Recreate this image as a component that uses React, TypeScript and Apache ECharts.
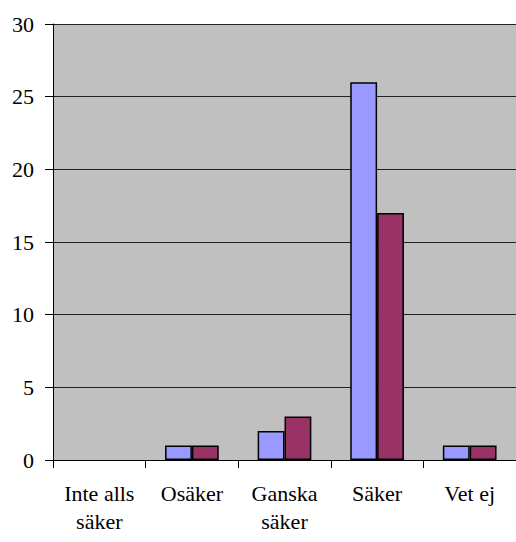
import React, { useEffect, useRef } from "react";
import * as echarts from "echarts";

const categories = ["Inte alls\nsäker", "Osäker", "Ganska\nsäker", "Säker", "Vet ej"];
const series1 = [0, 1, 2, 26, 1];
const series2 = [0, 1, 3, 17, 1];
const yTicks = { min: 0, max: 30, interval: 5 };

const hideZero = (arr: number[]) => arr.map((v) => (v === 0 ? null : v));

export default function App() {
  const ref = useRef<HTMLDivElement>(null);
  useEffect(() => {
    const chart = echarts.init(ref.current!, undefined, { renderer: "svg" });
    const font = "Liberation Serif";
    chart.setOption({
      animation: false,
      textStyle: { fontFamily: font },
      grid: {
        left: 53,
        right: -2,
        top: 24,
        bottom: 82,
        show: true,
        backgroundColor: "#C0C0C0",
        borderWidth: 0,
      },
      xAxis: {
        type: "category",
        data: categories,
        axisLine: { lineStyle: { color: "#000", width: 1 } },
        axisTick: { show: true, length: 8, lineStyle: { color: "#000" } },
        axisLabel: {
          color: "#000",
          fontFamily: font,
          fontSize: 22,
          lineHeight: 28,
          margin: 19,
          interval: 0,
        },
      },
      yAxis: {
        type: "value",
        min: yTicks.min,
        max: yTicks.max,
        interval: yTicks.interval,
        axisLine: { show: true, lineStyle: { color: "#000", width: 1 } },
        axisTick: { show: true, length: 8, lineStyle: { color: "#000" } },
        splitLine: { show: true, lineStyle: { color: "#222", width: 1 } },
        axisLabel: {
          color: "#000",
          fontFamily: font,
          fontSize: 22,
          margin: 19,
        },
      },
      series: [
        {
          type: "bar",
          data: hideZero(series1),
          barGap: "0%",
          barCategoryGap: "42%",
          itemStyle: { color: "#9999FF", borderColor: "#000", borderWidth: 1.5 },
        },
        {
          type: "bar",
          data: hideZero(series2),
          itemStyle: { color: "#993366", borderColor: "#000", borderWidth: 1.5 },
        },
      ],
    });
    return () => chart.dispose();
  }, []);
  return <div ref={ref} style={{ width: 516, height: 542, position: "absolute", left: 0, top: 0 }} />;
}
